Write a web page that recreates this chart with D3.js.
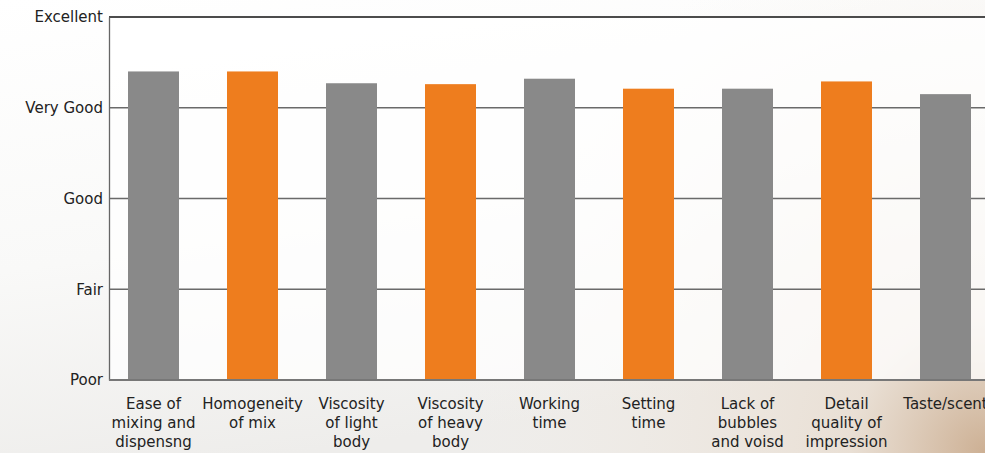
<!DOCTYPE html>
<html>
<head>
<meta charset="utf-8">
<script src="https://cdn.jsdelivr.net/npm/d3@7"></script>
<style>
html,body{margin:0;padding:0;}
body{width:985px;height:453px;overflow:hidden;}
svg{display:block;}
</style>
</head>
<body>
<svg id="chart" width="985" height="453"></svg>
<script>
const categories = [
  ["Ease of","mixing and","dispensng"],
  ["Homogeneity","of mix"],
  ["Viscosity","of light","body"],
  ["Viscosity","of heavy","body"],
  ["Working","time"],
  ["Setting","time"],
  ["Lack of","bubbles","and voisd"],
  ["Detail","quality of","impression"],
  ["Taste/scent"]
];
const values = [4.40, 4.40, 4.27, 4.26, 4.32, 4.21, 4.21, 4.29, 4.15];
const barColors = ["#898989","#ee7d1e","#898989","#ee7d1e","#898989","#ee7d1e","#898989","#ee7d1e","#898989"];
const tickValues = [1, 2, 3, 4, 5];
const tickLabels = ["Poor","Fair","Good","Very Good","Excellent"];

const svg = d3.select("#chart");
const W = 985, H = 453;
const FONT = "'DejaVu Sans', sans-serif";
const defs = svg.append("defs");

const lg = defs.append("linearGradient").attr("id","bg").attr("x1","0").attr("y1","0").attr("x2","0.3").attr("y2","1");
lg.append("stop").attr("offset","0").attr("stop-color","#ffffff");
lg.append("stop").attr("offset","0.55").attr("stop-color","#f9f9f8");
lg.append("stop").attr("offset","1").attr("stop-color","#eeedeb");
const rg = defs.append("radialGradient").attr("id","warm").attr("cx","1").attr("cy","1").attr("r","0.55")
  .attr("gradientTransform","scale(1,2.17) translate(0,-0.54)");
rg.append("stop").attr("offset","0").attr("stop-color","#c9a98a").attr("stop-opacity","0.9");
rg.append("stop").attr("offset","0.25").attr("stop-color","#e8dccf").attr("stop-opacity","0.8");
rg.append("stop").attr("offset","1").attr("stop-color","#f3eee8").attr("stop-opacity","0");

svg.append("rect").attr("width",W).attr("height",H).attr("fill","url(#bg)");
svg.append("rect").attr("width",W).attr("height",H).attr("fill","url(#warm)");

const x = d3.scaleBand()
  .domain(d3.range(categories.length))
  .range([109, 990])
  .paddingInner(0.485)
  .paddingOuter(0.192);
const y = d3.scaleLinear().domain([1,5]).range([380, 17]);

// plot area background
svg.append("rect").attr("x",109).attr("y",y(5)).attr("width",W-109).attr("height",y(1)-y(5))
  .attr("fill","#ffffff").attr("opacity",0.75);

// gridlines
svg.append("g").selectAll("line").data(tickValues.filter(v=>v>1 && v<5)).join("line")
  .attr("x1",109).attr("x2",W).attr("y1",d=>y(d)).attr("y2",d=>y(d))
  .attr("stroke","#6a6a6a").attr("stroke-width",1.3);

// top line
svg.append("line").attr("x1",109).attr("x2",W).attr("y1",y(5)).attr("y2",y(5))
  .attr("stroke","#111").attr("stroke-width",1.3);

// bars
svg.append("g").selectAll("rect").data(values).join("rect")
  .attr("x",(d,i)=>x(i)).attr("width",x.bandwidth())
  .attr("y",d=>y(d)).attr("height",d=>y(1)-y(d))
  .attr("fill",(d,i)=>barColors[i]);

// y axis
const yAxis = d3.axisLeft(y).tickValues(tickValues).tickFormat((d,i)=>tickLabels[i]).tickSize(0).tickPadding(6);
const gy = svg.append("g").attr("transform","translate(109,0)").call(yAxis);
gy.select(".domain").attr("stroke","#666").attr("stroke-width",1.3);
gy.selectAll("text").attr("font-family",FONT).attr("font-size","15px").attr("fill","#222");

// x axis baseline
svg.append("line").attr("x1",109).attr("x2",W).attr("y1",y(1)).attr("y2",y(1))
  .attr("stroke","#777").attr("stroke-width",2);

// x labels
const xl = svg.append("g").selectAll("text").data(categories).join("text")
  .attr("x",(d,i)=>x(i)+x.bandwidth()/2)
  .attr("y",409)
  .attr("text-anchor","middle")
  .attr("font-family",FONT).attr("font-size","15px").attr("fill","#222");
xl.selectAll("tspan").data(d=>d).join("tspan")
  .attr("x",function(){return this.parentNode.getAttribute("x");})
  .attr("dy",(d,i)=>i===0?0:19.2)
  .text(d=>d);
</script>
</body>
</html>
